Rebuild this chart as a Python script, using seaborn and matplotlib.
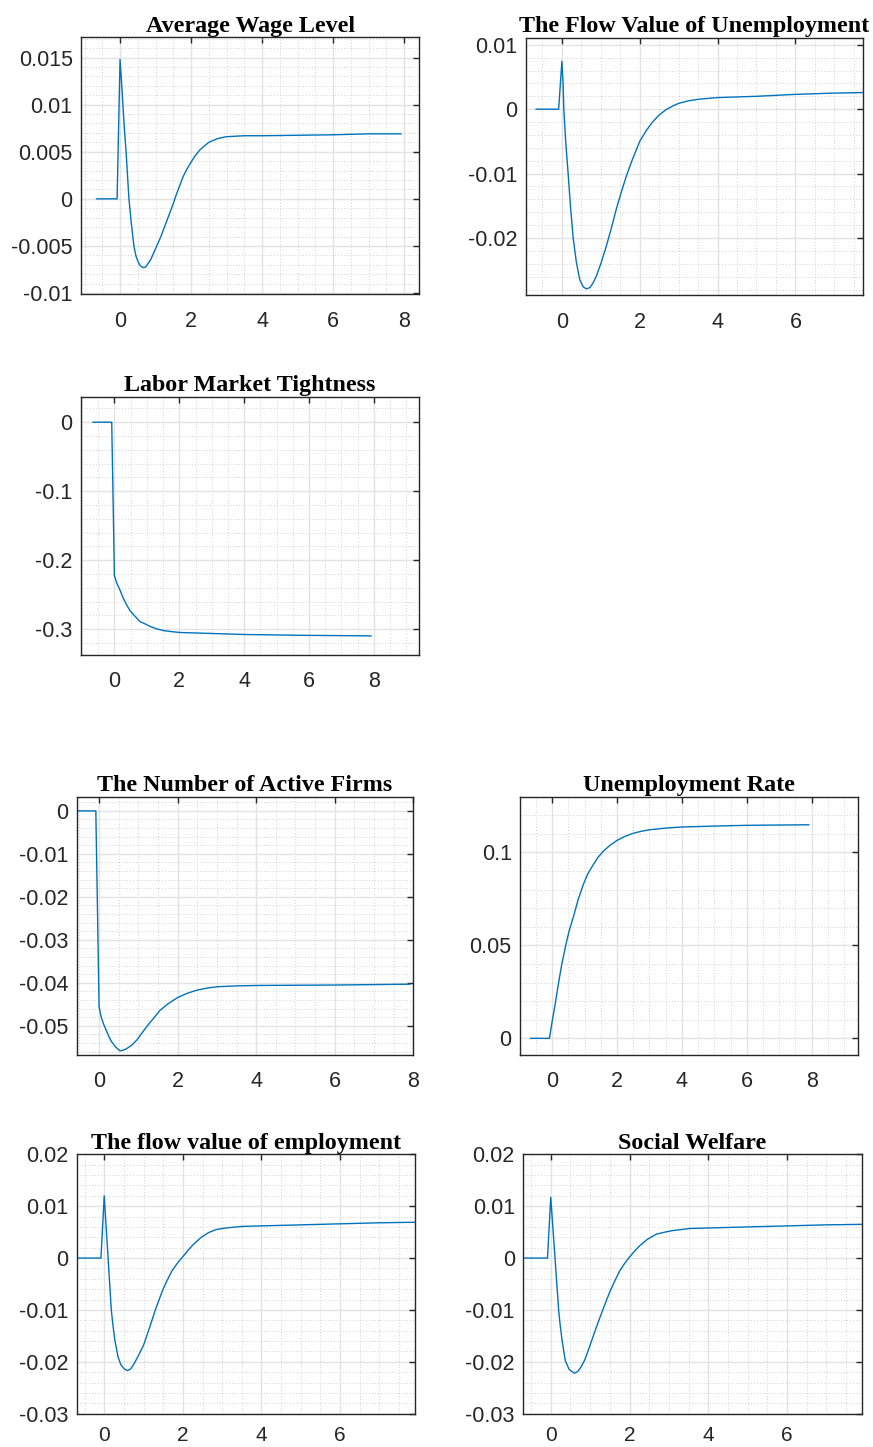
import numpy as np
import pandas as pd
import matplotlib
matplotlib.use('Agg')
import matplotlib.pyplot as plt
from matplotlib.ticker import MultipleLocator, FuncFormatter
import seaborn as sns

"""
Impulse responses read off the reference figure (time in years)
"""
wage_t = [-0.667, -0.083, 0.0, 0.04, 0.08, 0.12, 0.17, 0.21, 0.25, 0.32, 0.39, 0.45, 0.5, 0.55, 0.6,
          0.67, 0.73, 0.8, 0.87, 0.94, 1.01, 1.08, 1.15, 1.22, 1.29, 1.36, 1.43, 1.5, 1.57, 1.64,
          1.71, 1.78, 1.89, 2.0, 2.12, 2.25, 2.37, 2.5, 2.62, 2.75, 2.87, 3.0, 3.25, 3.5, 4.0, 5.0,
          6.0, 7.0, 7.917]
wage_y = [0.0, 0.0, 0.0148, 0.0125, 0.0100, 0.0075, 0.0050, 0.0025, 0.0, -0.0027, -0.0050, -0.0061,
          -0.0066, -0.0070, -0.0072, -0.0073, -0.0072, -0.0068, -0.0064, -0.0058, -0.0052, -0.0046,
          -0.0040, -0.0033, -0.0026, -0.0019, -0.0012, -0.0005, 0.0003, 0.0010, 0.0017, 0.0024,
          0.0032, 0.0039, 0.0046, 0.0052, 0.0056, 0.0060, 0.0062, 0.0064, 0.0065, 0.0066, 0.00665,
          0.0067, 0.0067, 0.00675, 0.0068, 0.0069, 0.0069]

ub_t = [-0.667, -0.083, 0.0, 0.03, 0.05, 0.1, 0.16, 0.22, 0.29, 0.37, 0.46, 0.55, 0.63, 0.72, 0.8,
        0.88, 1.0, 1.14, 1.27, 1.39, 1.52, 1.65, 1.8, 2.0, 2.17, 2.33, 2.5, 2.67, 2.85, 3.0, 3.25,
        3.52, 4.0, 5.0, 6.0, 7.0, 7.917]
ub_y = [0.0, 0.0, 0.00744, 0.0040, 0.0, -0.0052, -0.0100, -0.0150, -0.0200, -0.0237, -0.0265,
        -0.0276, -0.0279, -0.0277, -0.0270, -0.0260, -0.0240, -0.0213, -0.0185, -0.0157, -0.0130,
        -0.0105, -0.0080, -0.0050, -0.0033, -0.0020, -0.0009, -0.0001, 0.0005, 0.0009, 0.0013,
        0.00155, 0.0018, 0.0020, 0.0023, 0.0025, 0.0026]

theta_t = [-0.667, -0.083, 0.0, 0.08, 0.17, 0.27, 0.38, 0.48, 0.59, 0.69, 0.79, 0.93, 1.1, 1.3,
           1.51, 1.75, 2.02, 2.5, 3.05, 4.0, 6.0, 7.917]
theta_y = [0.0, 0.0, -0.2227, -0.234, -0.243, -0.255, -0.265, -0.273, -0.279, -0.284, -0.289,
           -0.292, -0.296, -0.2995, -0.302, -0.3035, -0.3048, -0.3055, -0.3063, -0.3077, -0.309,
           -0.3097]

firms_t = [-0.667, -0.083, 0.0, 0.05, 0.11, 0.2, 0.26, 0.32, 0.42, 0.53, 0.6, 0.7, 0.83, 0.96,
           1.08, 1.21, 1.38, 1.55, 1.75, 2.0, 2.25, 2.49, 2.75, 3.0, 3.5, 4.0, 6.0, 7.917]
firms_y = [0.0, 0.0, -0.0456, -0.0478, -0.0495, -0.0514, -0.0527, -0.0537, -0.0549, -0.0558,
           -0.0557, -0.0553, -0.0545, -0.0533, -0.0518, -0.0502, -0.0483, -0.0464, -0.0449,
           -0.0434, -0.0424, -0.0417, -0.0412, -0.0409, -0.0407, -0.0406, -0.0405, -0.0403]

urate_t = [-0.667, -0.083, 0.0, 0.1, 0.2, 0.3, 0.42, 0.52, 0.66, 0.8, 0.96, 1.1, 1.27, 1.42, 1.58,
           1.78, 2.0, 2.25, 2.5, 2.75, 3.0, 3.5, 4.0, 5.0, 6.0, 7.917]
urate_y = [0.0, 0.0, 0.009, 0.019, 0.030, 0.040, 0.050, 0.0575, 0.0656, 0.0745, 0.0827, 0.0885,
           0.0935, 0.0975, 0.1007, 0.1038, 0.1065, 0.1087, 0.1103, 0.1114, 0.1122, 0.1131, 0.1137,
           0.1142, 0.1146, 0.1149]

emp_t = [-0.667, -0.083, 0.0, 0.1, 0.18, 0.22, 0.27, 0.35, 0.42, 0.5, 0.59, 0.67, 0.75, 0.85, 1.0,
         1.15, 1.3, 1.48, 1.6, 1.72, 1.85, 1.97, 2.1, 2.25, 2.45, 2.65, 2.85, 3.1, 3.5, 4.0, 5.0,
         6.0, 7.0, 7.917]
emp_y = [0.0, 0.0, 0.0120, -0.0002, -0.0100, -0.0128, -0.0158, -0.0190, -0.0205, -0.0213, -0.0217,
         -0.0214, -0.0205, -0.0191, -0.0168, -0.0135, -0.0100, -0.0063, -0.0043, -0.0025, -0.0011,
         0.0, 0.0012, 0.0025, 0.0039, 0.0049, 0.0055, 0.0058, 0.0061, 0.0062, 0.0064, 0.0066,
         0.0068, 0.0069]

welf_t = [-0.667, -0.083, 0.0, 0.1, 0.2, 0.24, 0.29, 0.37, 0.47, 0.6, 0.68, 0.76, 0.86, 0.98, 1.15,
          1.32, 1.49, 1.62, 1.75, 1.87, 1.98, 2.1, 2.25, 2.45, 2.68, 2.9, 3.1, 3.53, 4.0, 5.0, 6.0,
          7.0, 7.917]
welf_y = [0.0, 0.0, 0.0117, 0.0009, -0.0100, -0.0130, -0.0160, -0.0198, -0.0215, -0.0222, -0.0219,
          -0.0211, -0.0197, -0.0172, -0.0135, -0.0100, -0.0067, -0.0045, -0.0025, -0.0011, 0.0,
          0.0011, 0.0023, 0.0036, 0.0046, 0.0050, 0.0053, 0.0057, 0.0058, 0.0060, 0.0062, 0.0064,
          0.0065]

titles = ['Average Wage Level', 'The Flow Value of Unemployment', 'Labor Market Tightness',
          'The Number of Active Firms', 'Unemployment Rate', 'The flow value of employment',
          'Social Welfare']
series = [(wage_t, wage_y), (ub_t, ub_y), (theta_t, theta_y), (firms_t, firms_y),
          (urate_t, urate_y), (emp_t, emp_y), (welf_t, welf_y)]

# axes boxes in pixels: left, top, right, bottom
boxes = [(81, 37.3, 419, 294), (525.7, 37.7, 862.7, 295.3), (81, 396.7, 419, 654.7),
         (76.7, 796.7, 413.3, 1054.7), (520, 796.7, 857.7, 1054.7),
         (76.7, 1154.3, 415.2, 1413.7), (523.2, 1154.3, 861.8, 1413.7)]
xlims = [(-1.1, 8.42), (-0.93, 7.73), (-1.03, 9.39), (-0.57, 8.0), (-0.99, 9.42),
         (-0.70, 7.91), (-0.70, 7.9)]
ylims = [(-0.0101, 0.01715), (-0.0289, 0.0111), (-0.337, 0.037), (-0.0567, 0.0033),
         (-0.0088, 0.130), (-0.03, 0.02), (-0.03, 0.02)]
ymajor = [0.005, 0.01, 0.1, 0.01, 0.05, 0.01, 0.01]
yminor = [0.001, 0.002, 0.02, 0.002, 0.01, 0.002, 0.002]

sns.set_theme(style='white')
plt.rcParams['axes.unicode_minus'] = False
plt.rcParams['font.family'] = ['Liberation Sans', 'DejaVu Sans']

W, H = 873, 1447
fig = plt.figure(figsize=(W / 100, H / 100), dpi=100)
fig.patch.set_facecolor('white')

fmt = FuncFormatter(lambda v, p: '%g' % (round(v, 6) + 0.0))

for i, (title, (t, y)) in enumerate(zip(titles, series)):
    l, tp, r, b = boxes[i]
    ax = fig.add_axes([l / W, 1 - b / H, (r - l) / W, (b - tp) / H])
    df = pd.DataFrame({'t': t, 'y': y})
    sns.lineplot(data=df, x='t', y='y', ax=ax, color='#0072BD', linewidth=1.0, estimator=None)
    ax.set_xlim(*xlims[i])
    ax.set_ylim(*ylims[i])
    ax.xaxis.set_major_locator(MultipleLocator(2))
    ax.xaxis.set_minor_locator(MultipleLocator(0.5))
    ax.yaxis.set_major_locator(MultipleLocator(ymajor[i]))
    ax.yaxis.set_minor_locator(MultipleLocator(yminor[i]))
    ax.xaxis.set_major_formatter(fmt)
    ax.yaxis.set_major_formatter(fmt)
    ax.grid(which='major', color='#e3e3e3', linewidth=1.0, linestyle='-')
    ax.grid(which='minor', color='#c4c4c4', linewidth=0.6, linestyle=(0, (1, 2.5)))
    ax.set_axisbelow(True)
    ax.tick_params(which='major', direction='in', length=4, width=1, color='#262626',
                   top=True, right=True, labelsize=15.5, labelcolor='#262626')
    ax.tick_params(which='minor', length=0)
    if i >= 5:
        ax.tick_params(axis='x', pad=8.5, labelsize=15)
    else:
        ax.tick_params(axis='x', pad=12)
    ax.tick_params(axis='y', pad=6)
    for s in ax.spines.values():
        s.set_color('#262626')
        s.set_linewidth(1.0)
    ax.set_xlabel('')
    ax.set_ylabel('')
    ax.set_title(title, fontsize=17.3, fontweight='bold', family='Liberation Serif', pad=4,
                 color='black')

fig.savefig('out.png', dpi=100, facecolor='white')
